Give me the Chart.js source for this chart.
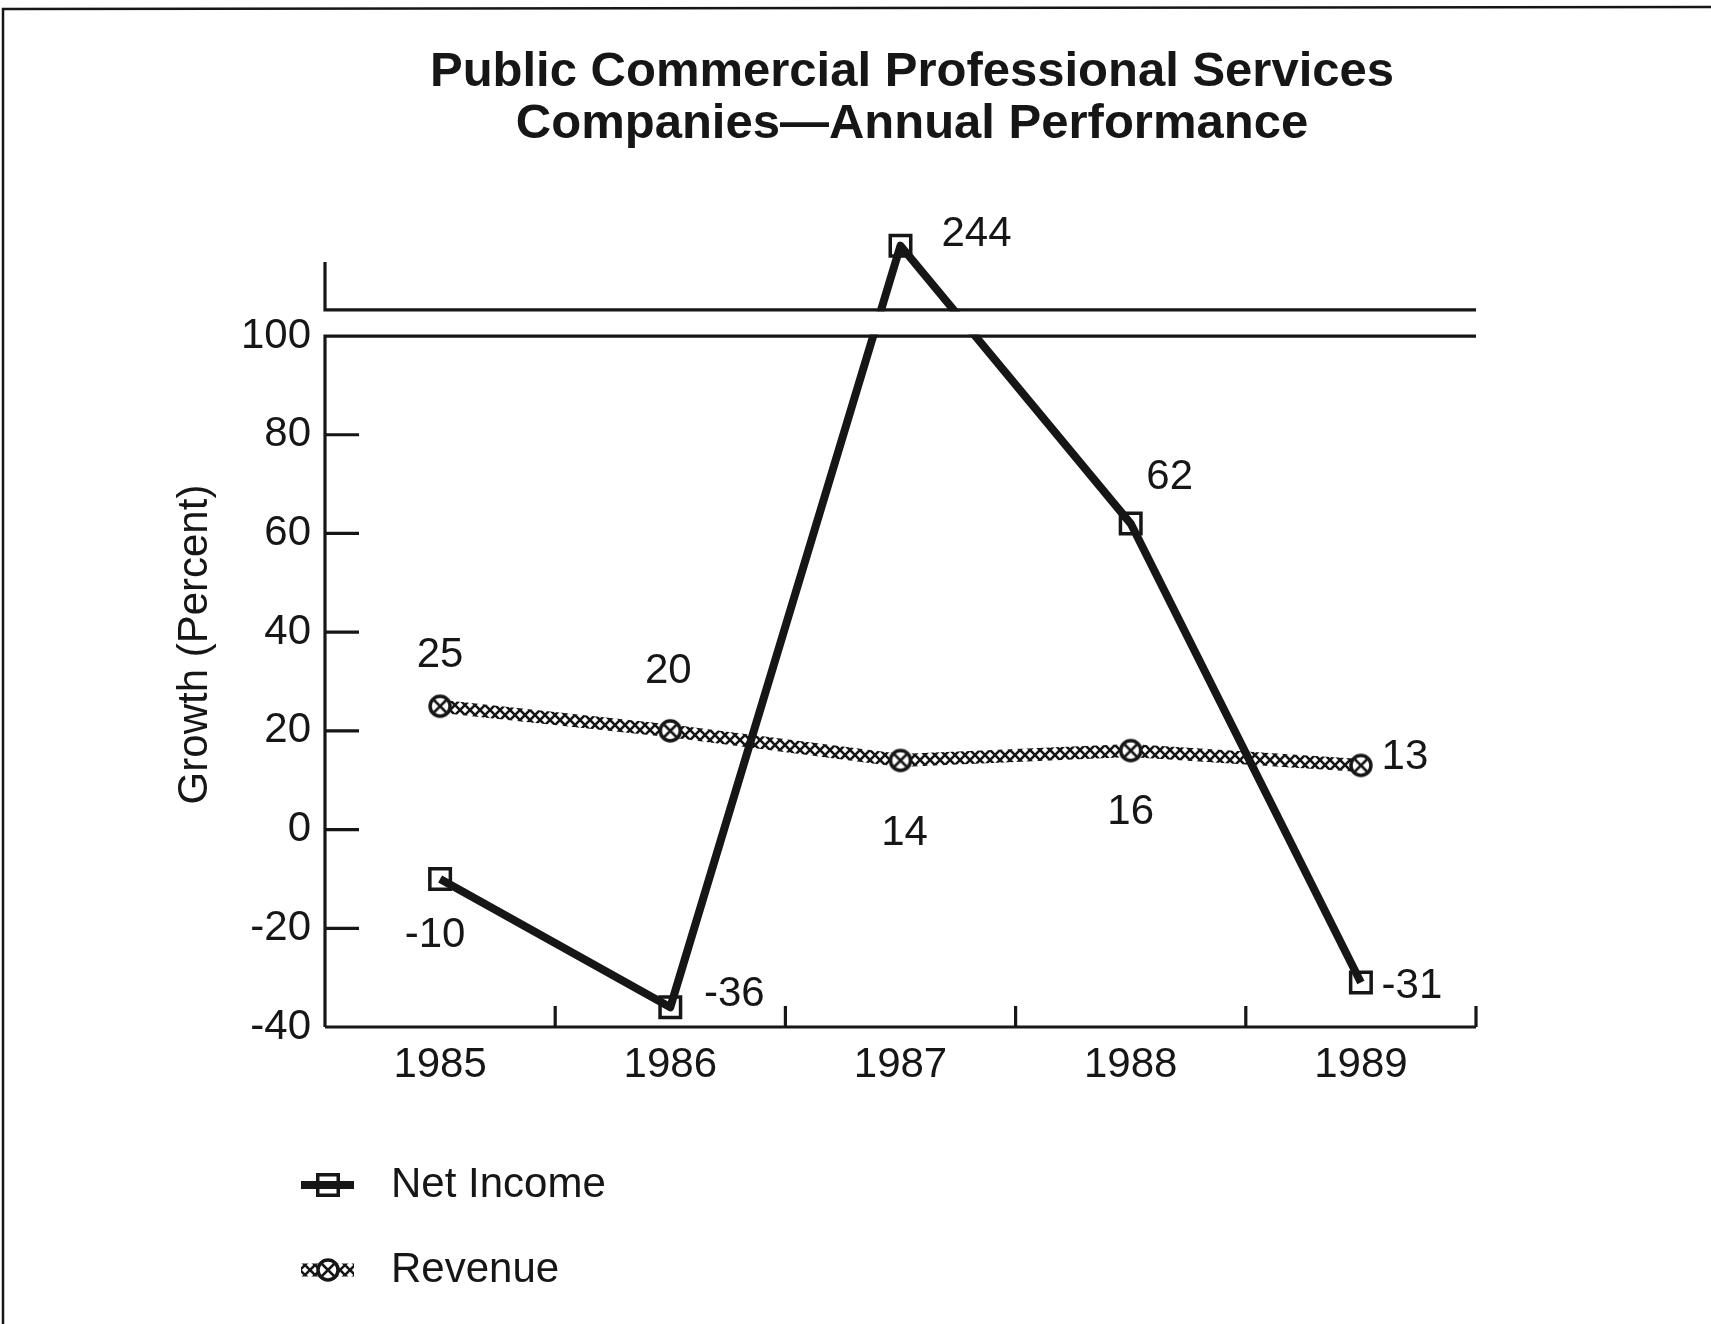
<!DOCTYPE html>
<html>
<head>
<meta charset="utf-8">
<title>Public Commercial Professional Services Companies—Annual Performance</title>
<script src="https://cdn.jsdelivr.net/npm/chart.js@4.4.1/dist/chart.umd.min.js"></script>
<style>
  html, body { margin: 0; padding: 0; background: #fff; }
  canvas { display: block; }
</style>
</head>
<body>
<canvas id="chart" width="1711" height="1324"></canvas>
<script>
// -- THE DATA --

const years = ["1985", "1986", "1987", "1988", "1989"];
const netIncome = [-10, -36, 244, 62, -31];
const revenue = [25, 20, 14, 16, 13];
const yTicks = [-40, -20, 0, 20, 40, 60, 80, 100];

const titleLines = [
  "Public Commercial Professional Services",
  "Companies\u2014Annual Performance"
];

// where each value label sits relative to its point (dx, dy)
const labelOffsets = [
  [[-5, 56], [64, -13], [76, -11], [39, -46], [51, 4]],
  [[0, -51], [-2, -59], [4, 73], [0, 62], [44, -8]]
];

// -- LOOK --

const FONT = "'Liberation Sans', Arial, Helvetica, sans-serif";
const INK = '#161616';
const PAPER = '#ffffff';

Chart.defaults.font.family = FONT;
Chart.defaults.font.size = 42;
Chart.defaults.color = INK;

const canvas = document.getElementById('chart');
const ctx2d = canvas.getContext('2d');

// cross-hatched "xxxx" stroke for the revenue line
function hatch() {
  const tile = document.createElement('canvas');
  tile.width = tile.height = 10;
  const g = tile.getContext('2d');
  g.strokeStyle = INK;
  g.lineWidth = 2.6;
  g.beginPath();
  g.moveTo(0, 0); g.lineTo(10, 10);
  g.moveTo(10, 0); g.lineTo(0, 10);
  g.stroke();
  return ctx2d.createPattern(tile, 'repeat');
}

// circle with an x inside
function ringMark(r) {
  const s = Math.ceil(r * 2 + 8);
  const c = document.createElement('canvas');
  c.width = c.height = s;
  const g = c.getContext('2d');
  const m = s / 2;
  g.fillStyle = PAPER;
  g.beginPath(); g.arc(m, m, r, 0, Math.PI * 2); g.fill();
  g.strokeStyle = INK;
  g.lineWidth = 3.5; g.stroke();
  const k = r * 0.6;
  g.lineWidth = 2.5;
  g.beginPath();
  g.moveTo(m - k, m - k); g.lineTo(m + k, m + k);
  g.moveTo(m + k, m - k); g.lineTo(m - k, m + k);
  g.stroke();
  return c;
}

// -- A LINEAR SCALE WITH A CUT IN IT --

class BrokenLinearScale extends Chart.LinearScale {
  static id = 'brokenLinear';
  static defaults = Chart.LinearScale.defaults;

  squash(value) {
    const cut = this.options.cut;
    return value > cut.from ? value - (cut.to - cut.from) + cut.gap : value;
  }
  getPixelForValue(value) {
    return super.getPixelForValue(this.squash(value));
  }
  getValueForPixel(pixel) {
    const cut = this.options.cut;
    const v = super.getValueForPixel(pixel);
    return v > cut.from + cut.gap ? v + (cut.to - cut.from) - cut.gap : v;
  }
  cutPixels() {
    const cut = this.options.cut;
    return [super.getPixelForValue(cut.from), super.getPixelForValue(cut.from + cut.gap)];
  }
}
Chart.register(BrokenLinearScale);

// -- PLUGINS --

const paperPlugin = {
  id: 'paper',
  beforeDraw(chart) {
    const { ctx, width, height } = chart;
    ctx.save();
    ctx.fillStyle = PAPER;
    ctx.fillRect(0, 0, width, height);
    ctx.strokeStyle = INK;
    ctx.lineWidth = 2.5;
    ctx.beginPath();
    ctx.moveTo(3, height);
    ctx.lineTo(3, 9);
    ctx.lineTo(width, 7);
    ctx.stroke();

    ctx.fillStyle = INK;
    ctx.font = 'bold 49px ' + FONT;
    ctx.textAlign = 'center';
    ctx.textBaseline = 'middle';
    titleLines.forEach((line, i) => ctx.fillText(line, 912, 72 + i * 52));
    ctx.restore();
  }
};

const axesPlugin = {
  id: 'axes',
  afterDatasetsDraw(chart) {
    const { ctx, chartArea: a, scales: { x, y } } = chart;
    const [lowY, upY] = y.cutPixels();
    ctx.save();
    // blank out the lines inside the break
    ctx.fillStyle = PAPER;
    ctx.fillRect(a.left - 4, upY + 1.5, a.right - a.left + 10, lowY - upY - 3);

    ctx.strokeStyle = INK;
    ctx.lineWidth = 3.2;
    ctx.beginPath();
    ctx.moveTo(a.left, a.top); ctx.lineTo(a.left, upY); ctx.lineTo(a.right, upY);
    ctx.moveTo(a.left, a.bottom); ctx.lineTo(a.left, lowY); ctx.lineTo(a.right, lowY);
    ctx.moveTo(a.left, a.bottom); ctx.lineTo(a.right, a.bottom);

    yTicks.slice(1, -1).forEach(v => {
      const py = y.getPixelForValue(v);
      ctx.moveTo(a.left, py);
      ctx.lineTo(a.left + 34, py);
    });
    for (let i = 1; i <= years.length; i++) {
      const px = i < years.length
        ? (x.getPixelForValue(i - 1) + x.getPixelForValue(i)) / 2
        : a.right;
      ctx.moveTo(px, a.bottom);
      ctx.lineTo(px, a.bottom - 21);
    }
    ctx.stroke();
    ctx.restore();
  }
};

const valueLabelPlugin = {
  id: 'valueLabels',
  afterDatasetsDraw(chart) {
    const { ctx } = chart;
    ctx.save();
    ctx.fillStyle = INK;
    ctx.font = '42px ' + FONT;
    ctx.textAlign = 'center';
    ctx.textBaseline = 'middle';
    chart.data.datasets.forEach((ds, di) => {
      chart.getDatasetMeta(di).data.forEach((pt, i) => {
        const [dx, dy] = labelOffsets[di][i];
        ctx.fillText(String(ds.data[i]), pt.x + dx, pt.y + dy);
      });
    });
    ctx.restore();
  }
};

const keyPlugin = {
  id: 'key',
  afterDraw(chart) {
    const { ctx } = chart;
    const rows = [1185, 1270];
    ctx.save();
    chart.data.datasets.forEach((ds, i) => {
      const cy = rows[i];
      ctx.strokeStyle = ds.borderColor;
      ctx.lineWidth = ds.borderWidth;
      ctx.beginPath();
      ctx.moveTo(301, cy);
      ctx.lineTo(354, cy);
      ctx.stroke();

      ctx.strokeStyle = INK;
      ctx.fillStyle = 'rgba(0,0,0,0)';
      ctx.lineWidth = ds.pointBorderWidth || 3;
      Chart.helpers.drawPoint(ctx, {
        pointStyle: ds.pointStyle,
        radius: ds.pointRadius,
        borderWidth: ds.pointBorderWidth || 3,
        rotation: 0
      }, 328, cy);

      ctx.fillStyle = INK;
      ctx.font = '42px ' + FONT;
      ctx.textAlign = 'left';
      ctx.textBaseline = 'middle';
      ctx.fillText(ds.label, 391, cy);
    });
    ctx.restore();
  }
};

// -- THE CHART --

const chartObj = {
  type: 'line',
  data: {
    labels: years,
    datasets: [{
      label: 'Net Income',
      data: netIncome,
      borderColor: INK,
      borderWidth: 8,
      borderJoinStyle: 'round',
      pointStyle: 'rect',
      pointRadius: 14.5,
      pointBorderWidth: 3.5,
      pointBorderColor: INK,
      pointBackgroundColor: 'rgba(0,0,0,0)',
      tension: 0,
      clip: false
    }, {
      label: 'Revenue',
      data: revenue,
      borderColor: hatch(),
      borderWidth: 13,
      pointStyle: ringMark(10),
      pointRadius: 11,
      tension: 0,
      clip: false
    }]
  },
  options: {
    responsive: false,
    animation: false,
    devicePixelRatio: 1,
    layout: { padding: { left: 170, right: 235, top: 262, bottom: 217 } },
    plugins: {
      legend: { display: false },
      title: { display: false },
      tooltip: { enabled: false }
    },
    scales: {
      x: {
        type: 'category',
        offset: true,
        grid: { display: false },
        border: { display: false },
        ticks: { padding: 5, maxRotation: 0, color: INK },
        afterFit: s => { s.height = 80; }
      },
      y: {
        type: 'brokenLinear',
        min: -40,
        max: 115,
        cut: { from: 100, to: 231, gap: 5.3 },
        grid: { display: false },
        border: { display: false },
        ticks: { padding: 6, color: INK },
        afterBuildTicks: s => { s.ticks = yTicks.map(v => ({ value: v })); },
        afterFit: s => { s.width = 155; },
        title: { display: true, text: 'Growth (Percent)', color: INK, padding: 0 }
      }
    }
  },
  plugins: [paperPlugin, axesPlugin, valueLabelPlugin, keyPlugin]
};

new Chart(canvas, chartObj);
</script>
</body>
</html>
